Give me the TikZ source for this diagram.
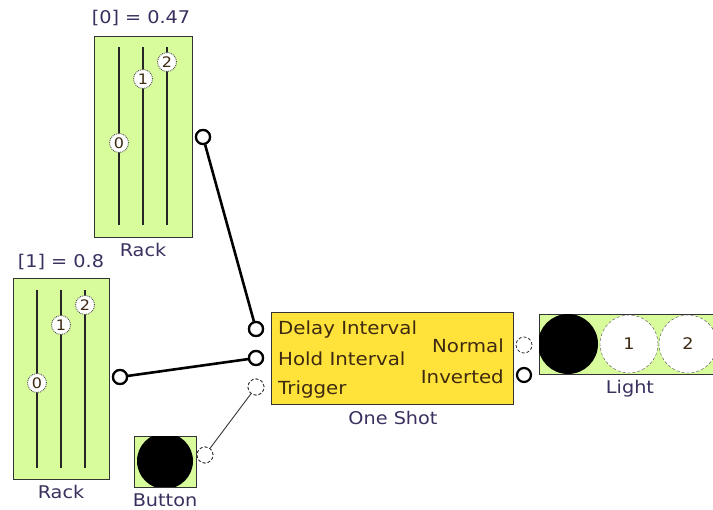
\documentclass[tikz,border=0pt]{standalone}
\usepackage{fontspec}
\setmainfont{DejaVu Sans}[FakeStretch=1.1]
\definecolor{rackgreen}{HTML}{D8FB9C}
\definecolor{shotyellow}{HTML}{FFE23A}
\definecolor{lblcol}{HTML}{3A2F5E}
\definecolor{intcol}{HTML}{3E2A10}
\tikzset{
  blk/.style={draw=black!80, line width=1.2pt},
  rackbox/.style={blk, fill=rackgreen},
  slider/.style={line width=1.4pt, black!85},
  knob/.style={circle, draw=black!70, densely dotted, line width=0.9pt, fill=white, minimum size=19pt, inner sep=0pt, font=\fontsize{14.5}{14.5}\selectfont, text=intcol},
  port/.style={circle, draw=black, line width=2.2pt, fill=white, minimum size=14pt, inner sep=0pt},
  freeport/.style={circle, draw=black!80, densely dashed, line width=0.8pt, fill=white, minimum size=16pt, inner sep=0pt},
  lbl/.style={font=\fontsize{17.5}{17.5}\selectfont, text=lblcol, inner sep=0pt},
  intl/.style={font=\fontsize{18}{18}\selectfont, text=intcol, inner sep=0pt},
  wire/.style={line width=2.6pt, black},
  thinwire/.style={line width=0.9pt, black!80},
}
\begin{document}
\begin{tikzpicture}[x=1pt,y=-1pt]
\useasboundingbox (0,0) rectangle (713,510);
% ---- top rack
\node[rackbox, minimum width=98pt, minimum height=201pt, anchor=north west, inner sep=0pt] (rackA) at (94,36) {};
\node[lbl] (rackAval) at (141,18) {[0] = 0.47};
\node[lbl] (rackAname) at (143,250) {Rack};
\foreach \x in {119,143,167} \draw[slider] (\x,47) -- (\x,225);
\node[knob] (kA0) at (119,143) {0};
\node[knob] (kA1) at (143,79) {1};
\node[knob] (kA2) at (167,62) {2};
\node[port] (pA) at (203,137) {};
% ---- bottom rack
\node[rackbox, minimum width=96pt, minimum height=201pt, anchor=north west, inner sep=0pt] (rackB) at (13,278) {};
\node[lbl] (rackBval) at (61,262) {[1] = 0.8};
\node[lbl] (rackBname) at (61,492) {Rack};
\foreach \x in {37,61,85} \draw[slider] (\x,290) -- (\x,468);
\node[knob] (kB0) at (37,383) {0};
\node[knob] (kB1) at (61,325) {1};
\node[knob] (kB2) at (85,305) {2};
\node[port] (pB) at (120,377) {};
% ---- one shot
\node[blk, fill=shotyellow, minimum width=242pt, minimum height=92pt, anchor=north west, inner sep=0pt] (shot) at (271,312) {};
\node[lbl] (shotname) at (393,418) {One Shot};
\node[intl, anchor=west] (tDelay) at (278,330) {Delay Interval};
\node[intl, anchor=west] (tHold) at (278,359) {Hold Interval};
\node[intl, anchor=west] (tTrig) at (278,390) {Trigger};
\node[intl, anchor=east] (tNorm) at (504,346) {Normal};
\node[intl, anchor=east] (tInv) at (504,377) {Inverted};
\node[port] (inDelay) at (256,329) {};
\node[port] (inHold) at (256,358) {};
\node[freeport] (inTrig) at (256,387) {};
\node[freeport] (outNorm) at (524,345) {};
\node[port] (outInv) at (524,375) {};
% ---- light
\node[rackbox, minimum width=190pt, minimum height=60pt, anchor=north west, inner sep=0pt] (light) at (539,314) {};
\begin{scope}
\clip (539,314) rectangle (729,374);
\fill[black] (568,344) circle (30);
\end{scope}
\node[circle, draw=black!70, densely dashed, fill=white, minimum size=58pt, inner sep=0pt, font=\fontsize{16}{16}\selectfont, text=intcol] (l1) at (629,344) {1};
\node[circle, draw=black!70, densely dashed, fill=white, minimum size=58pt, inner sep=0pt, font=\fontsize{16}{16}\selectfont, text=intcol] (l2) at (688,344) {2};
\node[lbl] (lightname) at (630,389) {Light};
% ---- button
\node[rackbox, minimum width=62pt, minimum height=51pt, anchor=north west, inner sep=0pt] (button) at (134,436) {};
\begin{scope}
\clip (134.6,436.6) rectangle (195.4,486.4);
\fill[black] (165,461) circle (28);
\end{scope}
\node[lbl] (buttonname) at (165,500) {Button};
\node[freeport] (pBtn) at (205,455) {};
% ---- wires
\draw[wire] (pA) -- (inDelay);
\draw[wire] (pB) -- (inHold);
\draw[thinwire] (pBtn) -- (inTrig);
\node[port] at (pA) {};
\node[port] at (inDelay) {};
\node[port] at (pB) {};
\node[port] at (inHold) {};
\node[freeport] at (pBtn) {};
\node[freeport] at (inTrig) {};
\end{tikzpicture}
\end{document}
